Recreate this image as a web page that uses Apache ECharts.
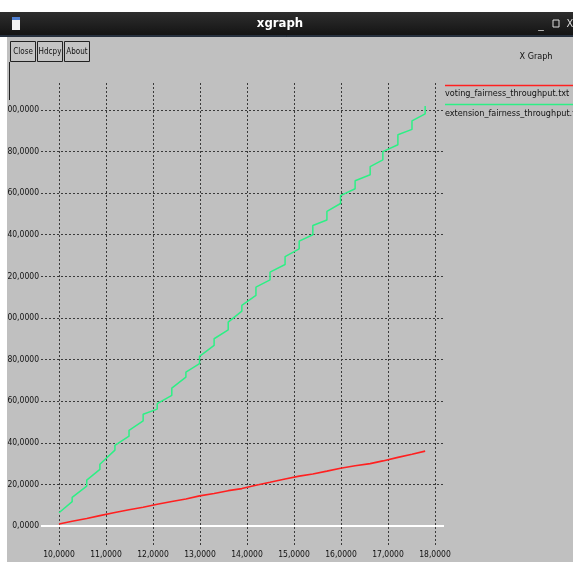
<!DOCTYPE html>
<html>
<head>
<meta charset="utf-8">
<title>xgraph</title>
<script src="https://cdn.jsdelivr.net/npm/echarts@6/dist/echarts.min.js"></script>
<style>
  html, body { margin: 0; padding: 0; background: #ffffff; }
  #chart { width: 573px; height: 562px; }
</style>
</head>
<body>
<div id="chart"></div>
<script>
// series names (legend)
const seriesNames = ['voting_fairness_throughput.txt', 'extension_fairness_throughput.txt']

// tick values / labels
const xTickValues = [10, 11, 12, 13, 14, 15, 16, 17, 18]
const xTickLabels = ['10,0000', '11,0000', '12,0000', '13,0000', '14,0000', '15,0000', '16,0000', '17,0000', '18,0000']
const yTickValues = [0, 20, 40, 60, 80, 100, 120, 140, 160, 180, 200]
const yTickLabels = ['0,0000', '20,0000', '40,0000', '60,0000', '80,0000', '100,0000', '120,0000', '140,0000', '160,0000', '180,0000', '200,0000']

// voting (red)
const votingX = [10.00, 10.28, 10.59, 10.87, 11.19, 11.49, 11.79, 12.09, 12.40, 12.70, 12.99, 13.30, 13.60, 13.89,
  14.19, 14.49, 14.81, 15.11, 15.40, 15.70, 15.99, 16.30, 16.62, 16.89, 17.21, 17.51, 17.79]
const votingY = [1.0, 2.3, 3.6, 5.0, 6.5, 7.8, 9.0, 10.5, 11.8, 13.0, 14.5, 15.6, 17.0, 18.0,
  19.6, 21.0, 22.6, 24.0, 25.0, 26.4, 27.8, 29.0, 30.0, 31.3, 33.0, 34.5, 36.0]

// extension (green) - staircase, x repeated at each jump
const extensionX = [10.00,
  10.28, 10.28, 10.59, 10.59, 10.87, 10.87, 11.19, 11.19, 11.49, 11.49, 11.79, 11.79,
  12.09, 12.09, 12.40, 12.40, 12.70, 12.70, 12.99, 12.99, 13.30, 13.30, 13.60, 13.60,
  13.89, 13.89, 14.19, 14.19, 14.49, 14.49, 14.81, 14.81, 15.11, 15.11, 15.40, 15.40,
  15.70, 15.70, 15.99, 15.99, 16.30, 16.30, 16.62, 16.62, 16.89, 16.89, 17.21, 17.21,
  17.51, 17.51, 17.79, 17.79]
const extensionY = [6.4,
  11.7, 13.8, 19.2, 22.1, 27.2, 29.7, 36.5, 38.8, 43.2, 46.0, 50.5, 53.7,
  56.2, 58.8, 62.8, 66.3, 71.6, 74.0, 78.0, 81.5, 86.8, 90.0, 94.3, 98.0,
  103.3, 106.0, 110.8, 114.8, 118.3, 122.0, 125.7, 129.5, 133.2, 136.9, 140.0, 144.4,
  147.1, 151.2, 155.0, 158.8, 162.1, 165.9, 168.8, 172.7, 176.0, 179.9, 183.2, 188.0,
  190.6, 194.7, 198.1, 201.9]

const seriesColors = ['#ff2020', '#2cf085']
const smallFont = "'Liberation Sans Narrow', 'DejaVu Sans Condensed', sans-serif"

const pairs = (xs, ys) => xs.map((x, i) => [x, ys[i]])

const myChart = echarts.init(document.getElementById('chart'))

// 网格虚线
const dashed = {
  color: '#3a3a3a',
  type: [2, 2],
  width: 1
}

const option = {
  backgroundColor: '#c0c0c0',
  animation: false,
  grid: {
    left: 41,
    right: 129,
    top: 83,
    bottom: 17,
    containLabel: false,
    outerBoundsMode: 'none'
  },
  xAxis: {
    type: 'value',
    min: 9.617,
    max: 18.191,
    axisLine: { show: false },
    axisTick: { show: false, customValues: xTickValues },
    axisLabel: {
      customValues: xTickValues,
      margin: 5,
      fontSize: 8.5,
      fontFamily: smallFont,
      color: '#111',
      formatter: (v) => xTickLabels[xTickValues.indexOf(Math.round(v))]
    },
    splitLine: { show: true, lineStyle: dashed }
  },
  yAxis: {
    type: 'value',
    min: -9.11,
    max: 212.9,
    axisLine: { show: false },
    axisTick: { show: false, customValues: yTickValues },
    axisLabel: {
      customValues: yTickValues,
      margin: 2,
      fontSize: 8.5,
      fontFamily: smallFont,
      color: '#111',
      formatter: (v) => yTickLabels[yTickValues.indexOf(Math.round(v))]
    },
    splitLine: { show: true, lineStyle: dashed }
  },
  series: [
    {
      name: seriesNames[0],
      type: 'line',
      data: pairs(votingX, votingY),
      showSymbol: false,
      symbol: 'none',
      lineStyle: { color: seriesColors[0], width: 1.6 },
      itemStyle: { color: seriesColors[0] },
      z: 3,
      markLine: {
        silent: true,
        symbol: 'none',
        label: { show: false },
        lineStyle: { color: '#ffffff', type: 'solid', width: 2 },
        data: [{ yAxis: 0 }]
      }
    },
    {
      name: seriesNames[1],
      type: 'line',
      data: pairs(extensionX, extensionY),
      showSymbol: false,
      symbol: 'none',
      lineStyle: { color: seriesColors[1], width: 1.5 },
      itemStyle: { color: seriesColors[1] },
      z: 3
    }
  ],
  graphic: [
    // page margins (window edge)
    { type: 'rect', z: 100, shape: { x: 0, y: 0, width: 573, height: 12 }, style: { fill: '#ffffff' } },
    { type: 'rect', z: 100, shape: { x: 0, y: 0, width: 7, height: 562 }, style: { fill: '#ffffff' } },
    { type: 'line', z: 101, shape: { x1: 9.5, y1: 62, x2: 9.5, y2: 100 }, style: { stroke: '#222', lineWidth: 1 } },
    // title bar
    {
      type: 'rect', z: 100, shape: { x: 0, y: 12, width: 573, height: 25 },
      style: {
        fill: new echarts.graphic.LinearGradient(0, 0, 0, 1, [
          { offset: 0, color: '#2e2e2e' },
          { offset: 1, color: '#121212' }
        ])
      }
    },
    { type: 'line', z: 101, shape: { x1: 0, y1: 36, x2: 573, y2: 36 }, style: { stroke: '#3a4f6a', lineWidth: 1 } },
    { type: 'rect', z: 101, shape: { x: 12, y: 17, width: 8, height: 13 }, style: { fill: '#f2f2f2' } },
    { type: 'rect', z: 102, shape: { x: 12, y: 17, width: 8, height: 3 }, style: { fill: '#4f7fd0' } },
    {
      type: 'text', z: 101, x: 280, y: 24,
      style: { text: 'xgraph', fill: '#ffffff', font: "bold 13px 'DejaVu Sans Condensed', sans-serif", align: 'center', verticalAlign: 'middle' }
    },
    {
      type: 'text', z: 101, x: 541, y: 25,
      style: { text: '_', fill: '#dddddd', font: "11px 'DejaVu Sans', sans-serif", align: 'center', verticalAlign: 'middle' }
    },
    { type: 'rect', z: 101, shape: { x: 553, y: 20, width: 6, height: 7 }, style: { fill: 'none', stroke: '#dddddd', lineWidth: 1 } },
    {
      type: 'text', z: 101, x: 570, y: 24,
      style: { text: 'X', fill: '#dddddd', font: "11px 'DejaVu Sans Condensed', sans-serif", align: 'center', verticalAlign: 'middle' }
    },
    // buttons
    { type: 'rect', z: 100, shape: { x: 10.5, y: 41.5, width: 25, height: 20 }, style: { fill: '#c4c4c4', stroke: '#222', lineWidth: 1 } },
    { type: 'text', z: 101, x: 23, y: 52, style: { text: 'Close', fill: '#111', font: "8px " + smallFont, align: 'center', verticalAlign: 'middle' } },
    { type: 'rect', z: 100, shape: { x: 37.5, y: 41.5, width: 25, height: 20 }, style: { fill: '#c4c4c4', stroke: '#222', lineWidth: 1 } },
    { type: 'text', z: 101, x: 50, y: 52, style: { text: 'Hdcpy', fill: '#111', font: "8px " + smallFont, align: 'center', verticalAlign: 'middle' } },
    { type: 'rect', z: 100, shape: { x: 64.5, y: 41.5, width: 25, height: 20 }, style: { fill: '#c4c4c4', stroke: '#222', lineWidth: 1 } },
    { type: 'text', z: 101, x: 77, y: 52, style: { text: 'About', fill: '#111', font: "8px " + smallFont, align: 'center', verticalAlign: 'middle' } },
    // title
    { type: 'text', z: 101, x: 536, y: 57, style: { text: 'X Graph', fill: '#111', font: "9px " + smallFont, align: 'center', verticalAlign: 'middle' } },
    // legend
    { type: 'line', z: 101, shape: { x1: 445, y1: 85.5, x2: 573, y2: 85.5 }, style: { stroke: seriesColors[0], lineWidth: 1.5 } },
    { type: 'text', z: 101, x: 445, y: 94, style: { text: seriesNames[0], fill: '#111', font: "9px " + smallFont, align: 'left', verticalAlign: 'middle' } },
    { type: 'line', z: 101, shape: { x1: 445, y1: 104.5, x2: 573, y2: 104.5 }, style: { stroke: seriesColors[1], lineWidth: 1.5 } },
    { type: 'text', z: 101, x: 445, y: 114, style: { text: seriesNames[1], fill: '#111', font: "9px " + smallFont, align: 'left', verticalAlign: 'middle' } }
  ]
}

myChart.setOption(option, true)
addEventListener('resize', () => {
  myChart.resize()
})
</script>
</body>
</html>
